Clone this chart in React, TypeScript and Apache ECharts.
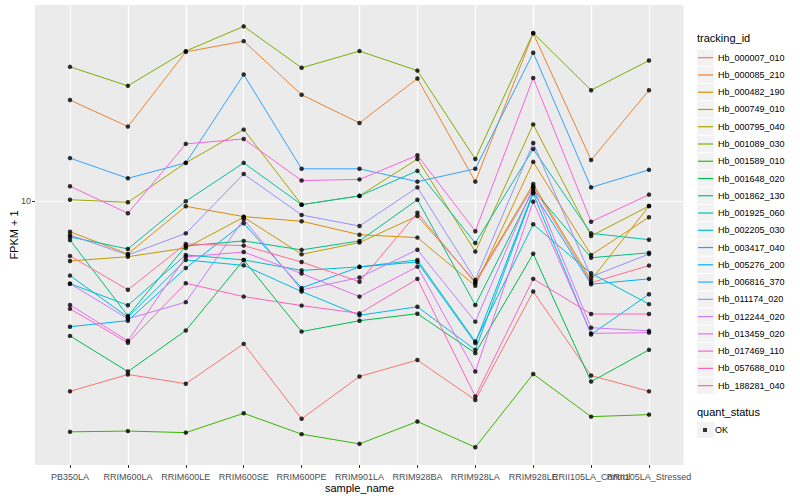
import React, { useEffect, useRef } from "react";
import * as echarts from "echarts";

const categories = [
  "PB350LA", "RRIM600LA", "RRIM600LE", "RRIM600SE", "RRIM600PE", "RRIM901LA",
  "RRIM928BA", "RRIM928LA", "RRIM928LE", "RRII105LA_Control", "RRII105LA_Stressed",
];

const trackingIds = [
  "Hb_000007_010", "Hb_000085_210", "Hb_000482_190", "Hb_000749_010", "Hb_000795_040",
  "Hb_001089_030", "Hb_001589_010", "Hb_001648_020", "Hb_001862_130", "Hb_001925_060",
  "Hb_002205_030", "Hb_003417_040", "Hb_005276_200", "Hb_006816_370", "Hb_011174_020",
  "Hb_012244_020", "Hb_013459_020", "Hb_017469_110", "Hb_057688_010", "Hb_188281_040",
];

const hb_000007_010 = [2.32, 2.64, 2.46, 3.34, 1.88, 2.60, 2.95, 2.17, 4.99, 2.62, 2.32];
const hb_000085_210 = [21.7, 17.7, 31.4, 34.1, 22.6, 18.2, 25.6, 11.6, 36.2, 13.7, 23.4];
const hb_000482_190 = [7.90, 6.66, 9.60, 8.87, 8.56, 7.72, 7.55, 5.22, 13.5, 6.61, 8.83];
const hb_000749_010 = [6.31, 6.52, 6.97, 8.83, 6.64, 7.27, 8.91, 5.38, 11.4, 5.45, 9.62];
const hb_000795_040 = [10.1, 9.90, 13.4, 17.3, 9.72, 10.4, 13.8, 6.78, 18.0, 7.64, 9.62];
const hb_001089_030 = [28.0, 24.2, 31.6, 38.2, 27.8, 31.6, 27.2, 13.8, 36.3, 23.4, 29.4];
const hb_001589_010 = [1.70, 1.71, 1.69, 1.96, 1.67, 1.55, 1.84, 1.51, 2.65, 1.91, 1.94];
const hb_001648_020 = [3.55, 2.70, 3.70, 6.36, 3.67, 3.99, 4.21, 3.11, 6.67, 2.50, 3.19];
const hb_001862_130 = [7.41, 4.14, 7.08, 7.36, 6.87, 7.36, 10.1, 4.50, 10.9, 6.47, 6.72];
const hb_001925_060 = [7.59, 6.92, 9.98, 13.4, 9.72, 10.4, 12.6, 7.24, 14.9, 7.80, 7.43];
const hb_002205_030 = [5.30, 4.49, 6.61, 6.36, 5.87, 6.03, 6.36, 3.40, 8.36, 5.74, 4.53];
const hb_003417_040 = [5.64, 4.10, 6.36, 6.10, 4.99, 4.16, 4.44, 3.19, 10.6, 3.59, 4.89];
const hb_005276_200 = [3.81, 3.99, 5.98, 8.43, 5.13, 6.03, 6.26, 3.36, 10.7, 5.28, 5.50];
const hb_006816_370 = [13.9, 11.9, 13.4, 26.4, 12.8, 12.8, 11.6, 12.8, 31.2, 11.1, 12.7];
const hb_011174_020 = [7.70, 6.61, 7.80, 12.3, 8.98, 8.25, 11.1, 5.46, 15.6, 5.59, 6.66];
const hb_012244_020 = [5.30, 4.05, 4.60, 8.69, 5.05, 5.56, 6.88, 3.96, 11.1, 3.78, 3.69];
const hb_013459_020 = [4.50, 3.42, 6.51, 6.76, 5.73, 4.80, 6.04, 2.70, 9.95, 3.62, 3.64];
const hb_017469_110 = [11.2, 9.10, 15.5, 16.1, 11.7, 11.8, 14.2, 7.93, 25.7, 8.53, 10.5];
const hb_057688_010 = [4.37, 3.37, 5.32, 4.80, 4.48, 4.22, 5.50, 2.23, 5.50, 4.20, 4.20];
const hb_188281_040 = [6.56, 5.06, 7.19, 7.10, 6.26, 5.38, 9.14, 5.32, 11.2, 5.34, 6.09];

const seriesValues = [
  hb_000007_010, hb_000085_210, hb_000482_190, hb_000749_010, hb_000795_040,
  hb_001089_030, hb_001589_010, hb_001648_020, hb_001862_130, hb_001925_060,
  hb_002205_030, hb_003417_040, hb_005276_200, hb_006816_370, hb_011174_020,
  hb_012244_020, hb_013459_020, hb_017469_110, hb_057688_010, hb_188281_040,
];

const yMin = 1.318;
const yMax = 45.01;
const yTicks = [10];

const palette = [
  "#F8766D", "#EA8331", "#D89000", "#C09B00", "#A3A500", "#7CAE00", "#39B600",
  "#00BB4E", "#00BF7D", "#00C1A3", "#00BFC4", "#00BAE0", "#00B0F6", "#35A2FF",
  "#9590FF", "#C77CFF", "#E76BF3", "#FA62DB", "#FF62BC", "#FF6C91",
];

const FONT = "'Liberation Sans', Arial, sans-serif";

export default function App() {
  const ref = useRef<HTMLDivElement>(null);

  useEffect(() => {
    document.body.style.margin = "0";
    if (!ref.current) return;
    const chart = echarts.init(ref.current, undefined, { renderer: "svg" });

    const lineSeries = trackingIds.map((id, i) => ({
      name: id,
      type: "line",
      xAxisIndex: 1,
      yAxisIndex: 1,
      data: seriesValues[i],
      showSymbol: false,
      color: palette[i],
      lineStyle: { width: 1, color: palette[i] },
      z: 2,
    }));

    const points: number[][] = [];
    seriesValues.forEach((vals) => vals.forEach((v, j) => points.push([j, v])));

    const keyStep = 17.26;
    const keyTop = 57.7;
    const keyBoxes = trackingIds.map((_, i) => ({
      type: "rect",
      shape: { x: 697, y: keyTop + keyStep * i - 8.1, width: 17, height: 16.2 },
      style: { fill: "#F2F2F2" },
      z: 0,
    }));

    const option = {
      animation: false,
      backgroundColor: "#FFFFFF",
      textStyle: { fontFamily: FONT },
      grid: [
        { left: 35, right: 116.5, top: 5, bottom: 35, show: true, backgroundColor: "#EBEBEB", borderWidth: 0, containLabel: false, outerBoundsMode: "none" },
        { left: 70, right: 151, top: 5, bottom: 35, show: false, containLabel: false, outerBoundsMode: "none" },
      ],
      xAxis: [
        { gridIndex: 0, type: "value", min: 0, max: 1, show: false },
        {
          gridIndex: 1,
          type: "category",
          data: categories,
          boundaryGap: false,
          axisLine: { show: false },
          axisTick: { show: true, length: 3, lineStyle: { color: "#333333", width: 1 } },
          axisLabel: { interval: 0, hideOverlap: false, color: "#4D4D4D", fontSize: 9, margin: 7, fontFamily: FONT },
          splitLine: { show: true, lineStyle: { color: "#FFFFFF", width: 1.2 } },
          name: "sample_name",
          nameLocation: "middle",
          nameGap: 17,
          nameMoveOverlap: false,
          nameTextStyle: { color: "#000000", fontSize: 11, fontFamily: FONT },
        },
      ],
      yAxis: [
        {
          gridIndex: 0,
          type: "log",
          logBase: 10,
          min: yMin,
          max: yMax,
          axisLine: { show: false },
          axisTick: { show: true, length: 3, customValues: yTicks, lineStyle: { color: "#333333", width: 1 } },
          axisLabel: {
            customValues: yTicks,
            formatter: (v: number) => (Math.abs(v - 10) < 1e-6 ? "10" : ""),
            color: "#4D4D4D",
            fontSize: 9,
            margin: 4,
            fontFamily: FONT,
          },
          splitLine: { show: true, lineStyle: { color: "#FFFFFF", width: 1.2 } },
          name: "FPKM + 1",
          nameLocation: "middle",
          nameGap: 16,
          nameMoveOverlap: false,
          nameTextStyle: { color: "#000000", fontSize: 11, fontFamily: FONT },
        },
        { gridIndex: 1, type: "log", logBase: 10, min: yMin, max: yMax, show: false },
      ],
      legend: [
        {
          data: trackingIds,
          orient: "vertical",
          left: 698,
          top: keyTop - 7,
          padding: 0,
          icon: "rect",
          itemWidth: 15,
          itemHeight: 1.2,
          itemGap: keyStep - 14,
          selectedMode: false,
          textStyle: { color: "#000000", fontSize: 9, lineHeight: 14, fontFamily: FONT },
        },
        {
          data: ["OK"],
          orient: "vertical",
          left: 703,
          top: 423,
          padding: 0,
          icon: "rect",
          itemWidth: 4,
          itemHeight: 4,
          selectedMode: false,
          textStyle: { color: "#000000", fontSize: 9, lineHeight: 14, fontFamily: FONT, padding: [0, 0, 0, 3] },
        },
      ],
      graphic: [
        ...keyBoxes,
        {
          type: "rect",
          shape: { x: 697, y: 421.9, width: 17, height: 16.2 },
          style: { fill: "#F2F2F2" },
          z: 0,
        },
        {
          type: "text",
          x: 697,
          y: 38,
          style: { text: "tracking_id", fill: "#000000", fontSize: 11, fontFamily: FONT, verticalAlign: "middle" },
        },
        {
          type: "text",
          x: 697,
          y: 411.7,
          style: { text: "quant_status", fill: "#000000", fontSize: 11, fontFamily: FONT, verticalAlign: "middle" },
        },
      ],
      series: [
        ...lineSeries,
        {
          name: "OK",
          type: "scatter",
          xAxisIndex: 1,
          yAxisIndex: 1,
          data: points,
          symbol: "circle",
          symbolSize: 4.5,
          color: "#000000",
          itemStyle: { color: "#000000" },
          z: 3,
        },
      ],
    };

    chart.setOption(option as any);
    return () => chart.dispose();
  }, []);

  return <div ref={ref} style={{ width: 800, height: 500 }} />;
}
